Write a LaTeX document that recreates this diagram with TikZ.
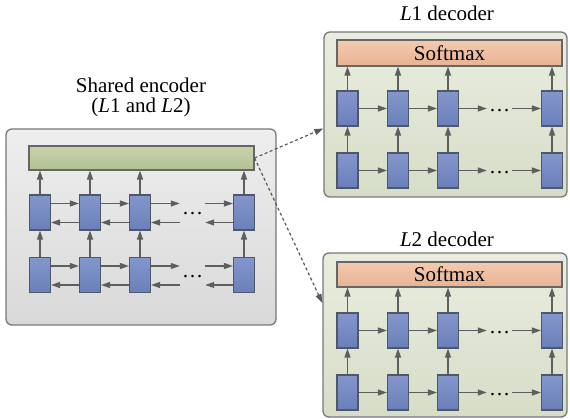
\documentclass[tikz,border=0pt]{standalone}
\usepackage{fontspec}
\setmainfont{Liberation Serif}
\usetikzlibrary{arrows.meta}
\definecolor{boxline}{HTML}{787878}
\definecolor{arrowgray}{HTML}{5E5E5E}
\definecolor{cellline}{HTML}{4F5868}
\definecolor{cellTop}{HTML}{8497CC}
\definecolor{cellBot}{HTML}{6A7EBA}
\definecolor{decTop}{HTML}{E9EDE0}
\definecolor{decBot}{HTML}{D6DDC7}
\definecolor{encTop}{HTML}{EEEEEE}
\definecolor{encBot}{HTML}{D9D9D9}
\definecolor{barTop}{HTML}{C8D2AA}
\definecolor{barBot}{HTML}{B3C195}
\definecolor{softTop}{HTML}{F4CAAE}
\definecolor{softBot}{HTML}{E8B294}

\begin{document}
\begin{tikzpicture}[x=1pt,y=-1pt,font=\fontsize{21}{20}\selectfont,
    panel/.style={draw=boxline,line width=1.3pt,rounded corners=6pt,inner sep=0pt},
    encpanel/.style={panel,top color=encTop,bottom color=encBot},
    decpanel/.style={panel,top color=decTop,bottom color=decBot},
    cell/.style={draw=cellline,line width=1.1pt,top color=cellTop,bottom color=cellBot,
        minimum width=21pt,minimum height=35pt,inner sep=0pt},
    bar/.style={draw=black!60,line width=1.1pt,inner sep=0pt,minimum width=225pt},
    softbar/.style={bar,top color=softTop,bottom color=softBot},
    arr/.style={draw=arrowgray,line width=1.2pt,-{Triangle[length=9pt,width=6pt]}},
    link/.style={draw=black!65,line width=1.2pt,dash pattern=on 3pt off 2.5pt,
        -{Triangle[length=9pt,width=6pt]}},
    dotsbox/.style={minimum width=25pt,inner sep=0pt}]
  \useasboundingbox (0,0) rectangle (570,419);

  % shared encoder
  \node[encpanel,minimum width=270pt,minimum height=196pt] (enc) at (141,227) {};
  \node[align=center] (enctitle) at (141,97) {Shared encoder\\(\textit{L}1 and \textit{L}2)};
  \node[bar,minimum height=24pt,top color=barTop,bottom color=barBot] (encbar) at (141.5,158) {};
  \foreach \i/\x in {1/40,2/90,3/140,4/244}{
    \node[cell] (eu\i) at (\x,212.5) {};
    \node[cell] (el\i) at (\x,275) {};
    \draw[arr] (el\i) -- (eu\i);
    \draw[arr] (eu\i) -- (eu\i |- encbar.south);
  }
  \node[dotsbox] (eudots) at (192.5,214) {\dots};
  \node[dotsbox] (eldots) at (192.5,277) {\dots};
  \foreach \r in {u,l}{
    \foreach \i/\j in {1/2,2/3}{
      \draw[arr] ([yshift=9pt]e\r\i.east) -- ([yshift=9pt]e\r\j.west);
      \draw[arr] ([yshift=-10pt]e\r\j.west) -- ([yshift=-10pt]e\r\i.east);
    }
    \draw[arr] ([yshift=9pt]e\r3.east) -- ([yshift=9pt]e\r3.east -| e\r dots.west);
    \draw[arr] ([yshift=9pt]e\r4.west -| e\r dots.east) -- ([yshift=9pt]e\r4.west);
    \draw[arr] ([yshift=-10pt]e\r4.west) -- ([yshift=-10pt]e\r4.west -| e\r dots.east);
    \draw[arr] ([yshift=-10pt]e\r3.east -| e\r dots.west) -- ([yshift=-10pt]e\r3.east);
  }

  % decoders
  \node[decpanel,minimum width=243pt,minimum height=165pt] (dec1) at (445.5,114.5) {};
  \node[decpanel,minimum width=244pt,minimum height=164pt] (dec2) at (445,335) {};
  \node (dec1title) at (447,13) {\textit{L}1 decoder};
  \node (dec2title) at (447,239) {\textit{L}2 decoder};
  \node[softbar,minimum height=26pt] (soft1) at (449.5,53) {Softmax};
  \node[softbar,minimum height=25pt] (soft2) at (449.5,274.5) {Softmax};
  \foreach \dd/\yu/\yl in {1/108.5/170.5,2/330.5/392.5}{
    \foreach \i/\x in {1/347.5,2/398,3/448,4/552}{
      \node[cell] (d\dd u\i) at (\x,\yu) {};
      \node[cell] (d\dd l\i) at (\x,\yl) {};
      \draw[arr] (d\dd l\i) -- (d\dd u\i);
      \draw[arr] (d\dd u\i) -- (d\dd u\i |- soft\dd.south);
    }
    \node[dotsbox] (d\dd udots) at (499.5,\yu+2) {\dots};
    \node[dotsbox] (d\dd ldots) at (499.5,\yl+2) {\dots};
    \foreach \r in {u,l}{
      \draw[arr] (d\dd\r1) -- (d\dd\r2);
      \draw[arr] (d\dd\r2) -- (d\dd\r3);
      \draw[arr] (d\dd\r3) -- (d\dd\r dots.west |- d\dd\r3);
      \draw[arr] (d\dd\r dots.east |- d\dd\r4) -- (d\dd\r4);
    }
  }

  % encoder to decoders
  \draw[link] (encbar.east) -- ([yshift=-14pt]dec1.west);
  \draw[link] (encbar.east) -- ([yshift=32pt]dec2.west);
\end{tikzpicture}
\end{document}
